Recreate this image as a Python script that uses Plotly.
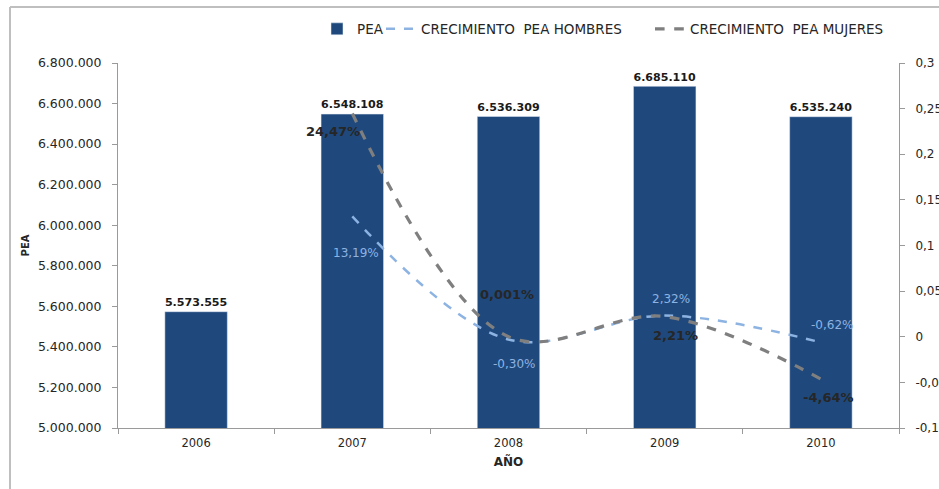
import plotly.graph_objects as go

years = ["2006", "2007", "2008", "2009", "2010"]
pea = [5573555, 6548108, 6536309, 6685110, 6535240]
crec_hombres_years = ["2007", "2008", "2009", "2010"]
crec_hombres = [0.1319, -0.0030, 0.0232, -0.0062]
crec_mujeres_years = ["2007", "2008", "2009", "2010"]
crec_mujeres = [0.2447, 0.00001, 0.0221, -0.0464]
hombres_labels = ["13,19%", "-0,30%", "2,32%", "-0,62%"]
mujeres_labels = ["24,47%", "0,001%", "2,21%", "-4,64%"]
left_ticks = [5000000, 5200000, 5400000, 5600000, 5800000, 6000000, 6200000, 6400000, 6600000, 6800000]
right_ticks = [-0.1, -0.05, 0, 0.05, 0.1, 0.15, 0.2, 0.25, 0.3]
right_ticktext = ["-0,1", "-0,05", "0", "0,05", "0,1", "0,15", "0,2", "0,25", "0,3"]

FONT = "DejaVu Sans"
BAR_COLOR = "#1F497D"
MEN_COLOR = "#8DB3E2"
WOMEN_COLOR = "#7F7F7F"
AXIS_COLOR = "#9A9A9A"
TXT = "#262626"

fig = go.Figure()
fig.add_trace(go.Bar(
    x=years, y=pea, name="PEA", marker_color=BAR_COLOR, width=0.40,
    text=["<b>" + f"{v:,}".replace(",", ".") + "</b>" for v in pea], textposition="outside",
    textfont=dict(family=FONT, size=12.5, color="#1a1a1a"),
    cliponaxis=False, legend="legend",
))
fig.add_trace(go.Scatter(
    x=crec_hombres_years, y=crec_hombres, name="CRECIMIENTO  PEA HOMBRES",
    mode="lines", line=dict(color=MEN_COLOR, width=2.5, dash="dash", shape="spline"),
    yaxis="y2", legend="legend2",
))
fig.add_trace(go.Scatter(
    x=crec_mujeres_years, y=crec_mujeres, name="CRECIMIENTO  PEA MUJERES",
    mode="lines", line=dict(color=WOMEN_COLOR, width=3.2, dash="dash", shape="spline"),
    yaxis="y2", legend="legend3",
))

men_off = [(4, -37), (5, -25), (6, 17), (11, 17)]
for xv, yv, t, (dx, dy) in zip(crec_hombres_years, crec_hombres, hombres_labels, men_off):
    fig.add_annotation(x=years.index(xv), y=yv, xref="x", yref="y2", text=t, showarrow=False,
                       xshift=dx, yshift=dy,
                       font=dict(family=FONT, size=12, color=MEN_COLOR))
women_off = [(-19, -18), (-2, 42), (11, -19), (8, -18)]
for xv, yv, t, (dx, dy) in zip(crec_mujeres_years, crec_mujeres, mujeres_labels, women_off):
    fig.add_annotation(x=years.index(xv), y=yv, xref="x", yref="y2", text="<b>" + t + "</b>", showarrow=False,
                       xshift=dx, yshift=dy,
                       font=dict(family=FONT, size=13, color=TXT))

PLOT_W = 781.0
def px_to_paper_x(px):
    return (px - 118) / PLOT_W

leg_common = dict(orientation="h", y=1.093, xanchor="left", yanchor="middle",
                  font=dict(family=FONT, size=13.5, color=TXT), bgcolor="rgba(0,0,0,0)")

fig.update_layout(
    width=939, height=489,
    margin=dict(l=118, r=40, t=63, b=61),
    paper_bgcolor="white", plot_bgcolor="white",
    font=dict(family=FONT, size=11, color=TXT),
    showlegend=True,
    legend=dict(x=px_to_paper_x(317), **leg_common),
    legend2=dict(x=px_to_paper_x(381), **leg_common),
    legend3=dict(x=px_to_paper_x(650), **leg_common),
    xaxis=dict(
        type="category", categoryorder="array", categoryarray=years, range=[-0.5, 4.5],
        automargin=False,
        showgrid=False, showline=True, linecolor=AXIS_COLOR, linewidth=1,
        ticks="outside", ticklen=5, tickcolor=AXIS_COLOR, tickson="boundaries",
        ticklabelstandoff=4,
        tickfont=dict(family=FONT, size=11.5, color=TXT),
        title=dict(text="<b>AÑO</b>", font=dict(family=FONT, size=12, color=TXT), standoff=8),
    ),
    yaxis=dict(
        range=[5000000, 6800000], tickvals=left_ticks, automargin=False,
        ticktext=[f"{v:,}".replace(",", ".") for v in left_ticks],
        showgrid=False, showline=True, linecolor=AXIS_COLOR, linewidth=1,
        ticks="outside", ticklen=5, tickcolor=AXIS_COLOR, zeroline=False,
        ticklabelstandoff=8,
        tickfont=dict(family=FONT, size=12.5, color=TXT),
        title=dict(text="<b>PEA</b>", font=dict(family=FONT, size=10, color=TXT), standoff=6),
    ),
    yaxis2=dict(
        overlaying="y", side="right", range=[-0.1, 0.3], automargin=False,
        tickvals=right_ticks, ticktext=right_ticktext,
        showgrid=False, showline=True, linecolor=AXIS_COLOR, linewidth=1,
        ticks="outside", ticklen=5, tickcolor=AXIS_COLOR, zeroline=False,
        ticklabelstandoff=8,
        tickfont=dict(family=FONT, size=12, color=TXT),
    ),
    shapes=[
        dict(type="line", xref="paper", yref="paper", x0=px_to_paper_x(10), x1=px_to_paper_x(10),
             y0=(428 - 7) / 365, y1=-61 / 365, line=dict(color="#BFBFBF", width=2)),
        dict(type="line", xref="paper", yref="paper", x0=px_to_paper_x(10), x1=px_to_paper_x(939),
             y0=(428 - 7) / 365, y1=(428 - 7) / 365, line=dict(color="#BFBFBF", width=2)),
    ],
)

fig.write_html("out.html", config={"displayModeBar": False},
               post_script="document.body.style.margin='0';document.body.style.overflow='hidden';")
